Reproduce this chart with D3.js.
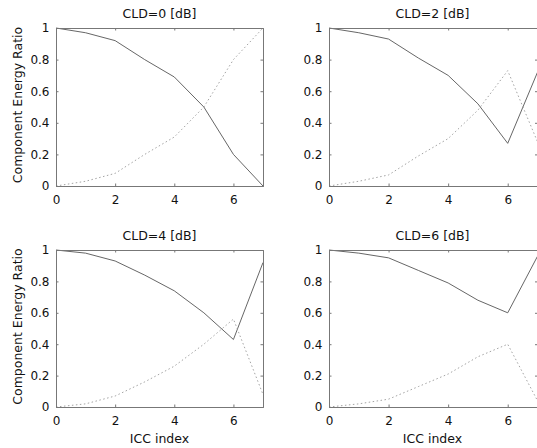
<!DOCTYPE html>
<html lang="en">
<head>
<meta charset="utf-8">
<title>Component Energy Ratio</title>
<script src="https://d3js.org/d3.v7.min.js"></script>
<style>
  body { margin: 0; background: #fff; }
  svg text { font-family: "DejaVu Sans", sans-serif; fill: #111; }
</style>
</head>
<body>
<div id="chart"></div>
<script>
// ICC index 0..7
const iccIndex = [0, 1, 2, 3, 4, 5, 6, 7];
const cldTitles = ["CLD=0 [dB]", "CLD=2 [dB]", "CLD=4 [dB]", "CLD=6 [dB]"];
// solid line (first component)
const solid0 = [1.00, 0.97, 0.92, 0.80, 0.69, 0.50, 0.20, 0.00];
const solid2 = [1.00, 0.97, 0.93, 0.81, 0.70, 0.52, 0.27, 0.72];
const solid4 = [1.00, 0.98, 0.93, 0.84, 0.74, 0.60, 0.43, 0.92];
const solid6 = [1.00, 0.98, 0.95, 0.87, 0.79, 0.68, 0.60, 0.96];
// dotted line (second component)
const dotted0 = [0.00, 0.03, 0.08, 0.20, 0.31, 0.50, 0.80, 1.00];
const dotted2 = [0.00, 0.03, 0.07, 0.19, 0.30, 0.48, 0.73, 0.28];
const dotted4 = [0.00, 0.02, 0.07, 0.16, 0.26, 0.40, 0.56, 0.08];
const dotted6 = [0.00, 0.02, 0.05, 0.13, 0.21, 0.32, 0.40, 0.04];
const xTicks = [0, 2, 4, 6];
const yTicks = [0, 0.2, 0.4, 0.6, 0.8, 1];

const width = 537, height = 448;
const tickFont = 12, labelFont = 12.5;
const svg = d3.select("#chart").append("svg")
  .attr("width", width).attr("height", height);

// panel boxes: left, right, top, bottom
const panels = [
  {title: cldTitles[0], solid: solid0, dotted: dotted0, l: 56,  r: 263,   t: 28,  b: 186, ylab: true,  xlab: false},
  {title: cldTitles[1], solid: solid2, dotted: dotted2, l: 329, r: 537.5, t: 28,  b: 186, ylab: false, xlab: false},
  {title: cldTitles[2], solid: solid4, dotted: dotted4, l: 56,  r: 263,   t: 250, b: 407, ylab: true,  xlab: true},
  {title: cldTitles[3], solid: solid6, dotted: dotted6, l: 329, r: 537.5, t: 250, b: 407, ylab: false, xlab: true}
];

const axisColor = "#777";

panels.forEach(p => {
  const x = d3.scaleLinear().domain([0, 7]).range([p.l, p.r]);
  const y = d3.scaleLinear().domain([0, 1]).range([p.b, p.t]);
  const g = svg.append("g");

  // lines
  const line = d3.line().x((d, i) => x(iccIndex[i])).y(d => y(d));
  g.append("path").datum(p.solid)
    .attr("d", line).attr("fill", "none")
    .attr("stroke", "#555").attr("stroke-width", 0.9);
  g.append("path").datum(p.dotted)
    .attr("d", line).attr("fill", "none")
    .attr("stroke", "#999").attr("stroke-width", 0.9)
    .attr("stroke-dasharray", "1.5,2.5");

  // axes (ticks inward)
  const xb = g.append("g").attr("transform", `translate(0,${p.b})`)
    .call(d3.axisBottom(x).tickValues(xTicks).tickSize(-2.5).tickPadding(9.5).tickFormat(d3.format("d")));
  const xt = g.append("g").attr("transform", `translate(0,${p.t})`)
    .call(d3.axisTop(x).tickValues(xTicks).tickSize(-2.5).tickFormat(""));
  const yl = g.append("g").attr("transform", `translate(${p.l},0)`)
    .call(d3.axisLeft(y).tickValues(yTicks).tickSize(-2.5).tickPadding(6.5).tickFormat(d => d === 0 || d === 1 ? d : d3.format(".1f")(d)));
  const yr = g.append("g").attr("transform", `translate(${p.r},0)`)
    .call(d3.axisRight(y).tickValues(yTicks).tickSize(-2.5).tickFormat(""));
  [xb, xt, yl, yr].forEach(a => {
    a.select(".domain").attr("stroke", axisColor);
    a.selectAll(".tick line").attr("stroke", axisColor);
    a.selectAll("text").attr("font-size", tickFont).attr("fill", "#111")
      .style("font-family", '"DejaVu Sans", sans-serif');
  });

  // title
  g.append("text")
    .attr("x", (p.l + (p.l + 207)) / 2).attr("y", p.t - 9.7)
    .attr("text-anchor", "middle").attr("font-size", labelFont)
    .text(p.title);

  if (p.ylab) {
    g.append("text")
      .attr("transform", `translate(22,${(p.t + p.b) / 2 - 2}) rotate(-90)`)
      .attr("text-anchor", "middle").attr("font-size", labelFont)
      .text("Component Energy Ratio");
  }
  if (p.xlab) {
    g.append("text")
      .attr("x", (p.l + (p.l + 207)) / 2).attr("y", p.b + 36)
      .attr("text-anchor", "middle").attr("font-size", labelFont)
      .text("ICC index");
  }
});
</script>
</body>
</html>
